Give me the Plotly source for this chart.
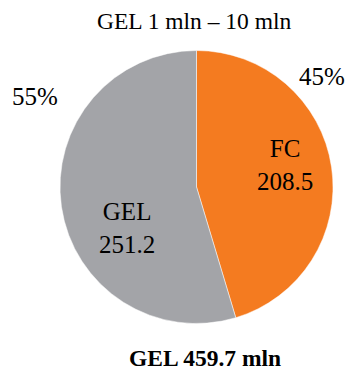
import plotly.graph_objects as go

categories = ["FC", "GEL"]
values = [208.5, 251.2]
colors = ["#F47B20", "#A3A4A8"]
subtitle = "GEL 1 mln – 10 mln"

total = sum(values)
pcts = [round(v / total * 100) for v in values]

W, H = 348, 374
FONT = "Liberation Serif"

fig = go.Figure(go.Pie(
    labels=categories,
    values=values,
    sort=False,
    direction="clockwise",
    rotation=0,
    marker=dict(colors=colors, line=dict(color="white", width=0.5)),
    textinfo="none",
    hoverinfo="label+value+percent",
    showlegend=False,
    domain=dict(x=[60 / W, 333 / W], y=[(H - 324) / H, (H - 50) / H]),
))

def px(x, y):
    return x / W, 1 - y / H

annotations = []
x, y = px(194, 21)
annotations.append(dict(x=x, y=y, text=subtitle, font=dict(size=23.5)))
x, y = px(322, 77)
annotations.append(dict(x=x, y=y, text=f"{pcts[0]}%", font=dict(size=25)))
x, y = px(35, 96)
annotations.append(dict(x=x, y=y, text=f"{pcts[1]}%", font=dict(size=25)))
x, y = px(285, 165)
annotations.append(dict(x=x, y=y, text=f"{categories[0]}<br>{values[0]:.1f}", font=dict(size=25)))
x, y = px(127, 228)
annotations.append(dict(x=x, y=y, text=f"{categories[1]}<br>{values[1]:.1f}", font=dict(size=25)))
x, y = px(205, 358)
annotations.append(dict(x=x, y=y, text=f"<b>GEL {total:.1f} mln</b>", font=dict(size=23.5)))

for a in annotations:
    a.update(xref="paper", yref="paper", showarrow=False, xanchor="center", yanchor="middle")
    a["font"].update(family=FONT, color="#000000")

fig.update_layout(
    width=W, height=H,
    margin=dict(l=0, r=0, t=0, b=0),
    paper_bgcolor="white",
    plot_bgcolor="white",
    annotations=annotations,
    font=dict(family=FONT),
)

fig.write_html("out.html")
